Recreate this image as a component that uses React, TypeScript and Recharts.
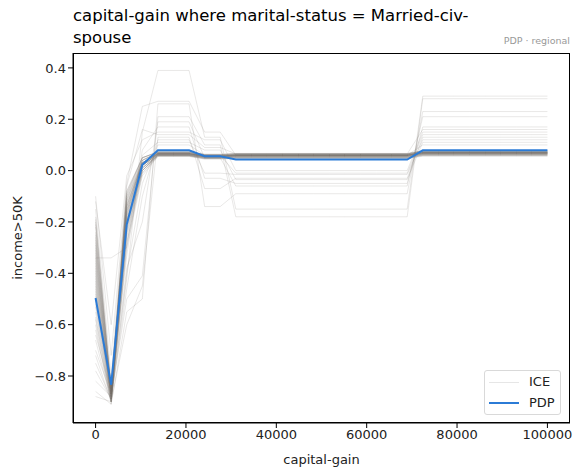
import React from "react"
import { LineChart, Line, XAxis, YAxis, Legend } from "recharts"

// capital-gain grid the model was evaluated on
const gridX = [
  0, 3448, 6897, 10345, 13793, 17241, 20690, 24138, 27586, 31034, 34483,
  37931, 41379, 44828, 48276, 51724, 55172, 58621, 62069, 65517, 68966,
  72414, 75862, 79310, 82759, 86207, 89655, 93103, 96552, 100000,
]

// which step of the tree model each grid point falls in
const stepOfPoint = [
  0, 1, 2, 3, 4, 4, 4, 5, 5, 6, 6, 6, 6, 6, 6, 6, 6, 6, 6, 6, 6, 7, 7, 7, 7,
  7, 7, 7, 7, 7,
]

const pdpValues = [
  -0.496, -0.834, -0.21, 0.023, 0.079, 0.079, 0.079, 0.056, 0.056, 0.043,
  0.043, 0.043, 0.043, 0.043, 0.043, 0.043, 0.043, 0.043, 0.043, 0.043,
  0.043, 0.079, 0.079, 0.079, 0.079, 0.079, 0.079, 0.079, 0.079, 0.079,
]

// one row per ICE curve, one value per step
const iceSteps = [
  [-0.22, -0.86, -0.12, 0.03, 0.068, 0.058, 0.062, 0.072],
  [-0.31, -0.88, -0.15, 0.02, 0.064, 0.055, 0.058, 0.068],
  [-0.41, -0.87, -0.18, 0.04, 0.071, 0.061, 0.064, 0.075],
  [-0.48, -0.89, -0.2, 0.01, 0.06, 0.05, 0.052, 0.063],
  [-0.55, -0.9, -0.24, 0.0, 0.058, 0.048, 0.05, 0.06],
  [-0.27, -0.85, -0.1, 0.05, 0.074, 0.064, 0.067, 0.078],
  [-0.36, -0.87, -0.16, 0.03, 0.066, 0.057, 0.06, 0.07],
  [-0.6, -0.91, -0.28, -0.01, 0.056, 0.046, 0.048, 0.058],
  [-0.18, -0.84, -0.08, 0.05, 0.072, 0.063, 0.066, 0.076],
  [-0.44, -0.88, -0.19, 0.02, 0.063, 0.054, 0.057, 0.067],
  [-0.52, -0.89, -0.22, 0.01, 0.061, 0.052, 0.055, 0.065],
  [-0.33, -0.86, -0.14, 0.04, 0.069, 0.059, 0.063, 0.073],
  [-0.25, -0.85, -0.11, 0.03, 0.067, 0.058, 0.061, 0.071],
  [-0.66, -0.9, -0.3, -0.02, 0.055, 0.045, 0.047, 0.056],
  [-0.39, -0.87, -0.17, 0.02, 0.065, 0.056, 0.059, 0.069],
  [-0.47, -0.88, -0.21, 0.0, 0.062, 0.053, 0.056, 0.066],
  [-0.2, -0.85, -0.09, 0.05, 0.073, 0.062, 0.065, 0.077],
  [-0.58, -0.9, -0.26, 0.0, 0.059, 0.049, 0.051, 0.061],
  [-0.3, -0.86, -0.13, 0.03, 0.068, 0.057, 0.06, 0.07],
  [-0.43, -0.88, -0.18, 0.02, 0.064, 0.055, 0.058, 0.068],
  [-0.35, -0.87, -0.15, 0.03, 0.066, 0.056, 0.059, 0.07],
  [-0.5, -0.89, -0.23, 0.01, 0.06, 0.051, 0.054, 0.064],
  [-0.28, -0.86, -0.12, 0.04, 0.07, 0.06, 0.063, 0.074],
  [-0.45, -0.88, -0.2, 0.02, 0.063, 0.054, 0.057, 0.067],
  [-0.24, -0.86, -0.1, 0.04, 0.067, 0.057, 0.061, 0.072],
  [-0.38, -0.88, -0.16, 0.03, 0.065, 0.055, 0.059, 0.069],
  [-0.29, -0.87, -0.13, 0.02, 0.066, 0.056, 0.06, 0.07],
  [-0.42, -0.89, -0.19, 0.02, 0.062, 0.053, 0.056, 0.066],
  [-0.53, -0.9, -0.23, 0.0, 0.059, 0.05, 0.053, 0.063],
  [-0.21, -0.85, -0.09, 0.05, 0.071, 0.061, 0.065, 0.075],
  [-0.34, -0.87, -0.14, 0.03, 0.067, 0.057, 0.061, 0.071],
  [-0.46, -0.88, -0.2, 0.01, 0.061, 0.052, 0.055, 0.065],
  [-0.26, -0.86, -0.11, 0.04, 0.069, 0.059, 0.062, 0.073],
  [-0.4, -0.88, -0.17, 0.02, 0.064, 0.054, 0.058, 0.068],
  [-0.57, -0.9, -0.25, 0.0, 0.058, 0.048, 0.051, 0.061],
  [-0.32, -0.87, -0.14, 0.03, 0.066, 0.056, 0.06, 0.07],
  [-0.19, -0.85, -0.08, 0.05, 0.072, 0.062, 0.066, 0.076],
  [-0.49, -0.89, -0.21, 0.01, 0.06, 0.051, 0.054, 0.064],
  [-0.37, -0.87, -0.16, 0.03, 0.065, 0.055, 0.059, 0.069],
  [-0.62, -0.9, -0.28, -0.01, 0.057, 0.047, 0.049, 0.059],
  [-0.1, -0.72, -0.05, 0.25, 0.27, 0.15, 0.06, 0.1],
  [-0.75, -0.89, -0.42, 0.15, 0.39, 0.13, -0.15, 0.29],
  [-0.82, -0.88, -0.5, -0.41, 0.21, 0.1, -0.18, 0.28],
  [-0.86, -0.91, -0.55, -0.5, 0.26, -0.14, -0.09, 0.23],
  [-0.7, -0.87, -0.38, -0.2, 0.19, 0.05, -0.06, 0.21],
  [-0.34, -0.34, -0.3, 0.08, 0.17, -0.03, -0.05, 0.17],
  [-0.12, -0.6, -0.02, 0.12, 0.15, 0.12, 0.0, 0.15],
  [-0.88, -0.9, -0.6, -0.45, 0.13, -0.07, -0.03, 0.13],
  [-0.78, -0.89, -0.46, -0.1, 0.12, -0.01, -0.015, 0.12],
  [-0.64, -0.86, -0.33, 0.06, 0.11, 0.08, -0.035, 0.11],
  [-0.72, -0.9, -0.4, -0.05, 0.1, 0.06, -0.01, 0.14],
  [-0.15, -0.8, -0.06, 0.16, 0.14, 0.09, 0.065, 0.16],
]

const xTicks = [0, 20000, 40000, 60000, 80000, 100000]
const yTicks = [-0.8, -0.6, -0.4, -0.2, 0.0, 0.2, 0.4]

const FONT = "DejaVu Sans, sans-serif"
const PDP_COLOR = "#2b7bd6"

const data = gridX.map((x, i) => {
  const row: Record<string, number> = { x, pdp: pdpValues[i] }
  iceSteps.forEach((steps, k) => {
    row["ice" + k] = steps[stepOfPoint[i]]
  })
  return row
})

const fmtY = (v: number) => {
  const s = Math.abs(v).toFixed(1)
  return v < -1e-9 ? "\u2212" + s : s
}

const LegendBox = () => (
  <div
    style={{
      position: "absolute",
      left: 484,
      top: 370,
      width: 77,
      height: 45,
      border: "1px solid #d9d9d9",
      borderRadius: 3,
      background: "rgba(255,255,255,0.8)",
      fontFamily: FONT,
      fontSize: 13,
      color: "#222",
      boxSizing: "border-box",
    }}
  >
    <div style={{ position: "absolute", left: 4, top: 11, width: 30, height: 1, background: "#e6e6e6" }} />
    <div style={{ position: "absolute", left: 44, top: 3 }}>ICE</div>
    <div style={{ position: "absolute", left: 4, top: 31, width: 30, height: 2, background: PDP_COLOR }} />
    <div style={{ position: "absolute", left: 44, top: 24 }}>PDP</div>
  </div>
)

export default function App() {
  return (
    <div style={{ position: "absolute", left: 0, top: 0, width: 582, height: 476, background: "#fff", fontFamily: FONT }}>
      <div style={{ position: "absolute", left: 73, top: 5, fontSize: 16.5, lineHeight: "22px", color: "#000" }}>
        capital-gain where marital-status = Married-civ-
        <br />
        spouse
      </div>
      <div style={{ position: "absolute", right: 12, top: 35, fontSize: 9.5, color: "#999" }}>
        PDP · regional
      </div>
      <LineChart
        width={582}
        height={476}
        data={data}
        margin={{ top: 53, right: 12, left: 23, bottom: 0 }}
        style={{ position: "absolute", left: 0, top: 0 }}
      >
        <XAxis
          dataKey="x"
          type="number"
          domain={[-5000, 105000]}
          ticks={xTicks}
          allowDataOverflow
          height={53}
          tickSize={5}
          stroke="#000"
          tick={{ fill: "#222", fontSize: 13, fontFamily: FONT }}
          label={{ value: "capital-gain", position: "insideBottom", offset: 12, fill: "#222", fontSize: 13, fontFamily: FONT }}
        />
        <YAxis
          type="number"
          domain={[-0.983, 0.458]}
          ticks={yTicks}
          allowDataOverflow
          width={50}
          tickSize={5}
          stroke="#000"
          tickFormatter={fmtY}
          tick={{ fill: "#222", fontSize: 13, fontFamily: FONT }}
          label={{ value: "income>50K", angle: -90, position: "insideLeft", offset: -6, fill: "#222", fontSize: 13, fontFamily: FONT, style: { textAnchor: "middle" } }}
        />
        {iceSteps.map((_, k) => (
          <Line
            key={k}
            dataKey={"ice" + k}
            type="linear"
            stroke="#77736b"
            strokeOpacity={0.16}
            strokeWidth={1}
            dot={false}
            activeDot={false}
            isAnimationActive={false}
          />
        ))}
        <Line
          dataKey="pdp"
          type="linear"
          stroke={PDP_COLOR}
          strokeWidth={2}
          dot={false}
          activeDot={false}
          isAnimationActive={false}
        />
        <Legend content={() => null} />
      </LineChart>
      <div style={{ position: "absolute", left: 73, top: 53, width: 497, height: 370, border: "1px solid #000", boxSizing: "border-box", pointerEvents: "none" }} />
      <LegendBox />
    </div>
  )
}
